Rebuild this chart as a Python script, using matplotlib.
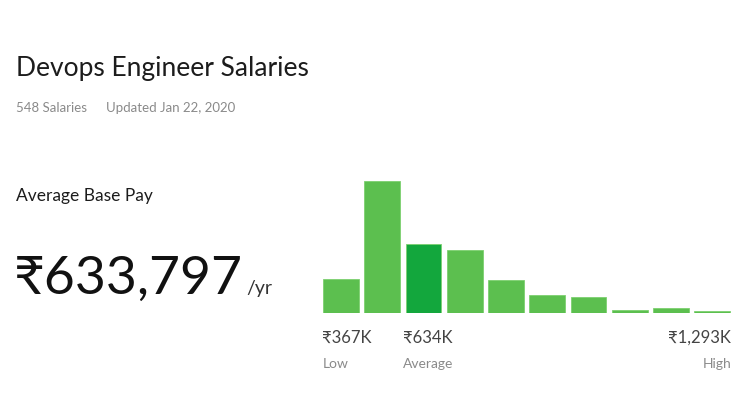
import matplotlib
matplotlib.use("Agg")
import matplotlib.pyplot as plt

# salary distribution (approx. counts per bin)
bins = list(range(10))
counts = [50, 192, 101, 92, 48, 26, 24, 5, 8, 3]
avg_bin = 2

title = "Devops Engineer Salaries"
subtitle = ["548 Salaries", "Updated Jan 22, 2020"]
avg_label = "Average Base Pay"
avg_value = "₹633,797"
low_lbl = ("₹367K", "Low")
avg_lbl = ("₹634K", "Average")
high_lbl = ("₹1,293K", "High")

W, H = 750, 400
plt.rcParams['font.family'] = ['Lato', 'DejaVu Sans']

fig = plt.figure(figsize=(W / 100, H / 100), dpi=100)
fig.patch.set_facecolor("white")


def px(x, y):
    # pixel coords (top-left origin) -> figure fraction
    return x / W, 1 - y / H


dark = "#1c1c1c"
grey = "#8a8a8a"

fig.text(*px(16, 76), title, fontsize=19, color=dark, va="baseline")
fig.text(*px(16, 112), subtitle[0], fontsize=9.5, color=grey, va="baseline")
fig.text(*px(106, 112), subtitle[1], fontsize=9.5, color=grey, va="baseline")
fig.text(*px(16, 201), avg_label, fontsize=12.5, color=dark, va="baseline")
fig.text(*px(14, 294), avg_value, fontsize=38.5, color="#111111", va="baseline")
fig.text(*px(246, 294), "/yr", fontsize=14, color="#333333", va="baseline")

# histogram axes
left, right, bottom, top = 320.4, 732.9, 313.3, 181
ax = fig.add_axes([left / W, 1 - bottom / H, (right - left) / W, (bottom - top) / H])
colors = ["#5cbf4f"] * len(bins)
colors[avg_bin] = "#13a73d"
ax.bar(bins, counts, width=0.87, color=colors, edgecolor="#7dd070", linewidth=0.6)
ax.set_xlim(-0.5, 9.5)
ax.set_ylim(0, max(counts))
ax.axis("off")

fig.text(*px(322, 343), low_lbl[0], fontsize=12, color="#444444", va="baseline")
fig.text(*px(323, 368), low_lbl[1], fontsize=10, color=grey, va="baseline")
fig.text(*px(403, 343), avg_lbl[0], fontsize=12, color="#444444", va="baseline")
fig.text(*px(403, 368), avg_lbl[1], fontsize=10, color=grey, va="baseline")
fig.text(*px(731, 343), high_lbl[0], fontsize=12, color="#444444", va="baseline", ha="right")
fig.text(*px(731, 368), high_lbl[1], fontsize=10, color=grey, va="baseline", ha="right")

fig.savefig("out.png", dpi=100, facecolor="white")
